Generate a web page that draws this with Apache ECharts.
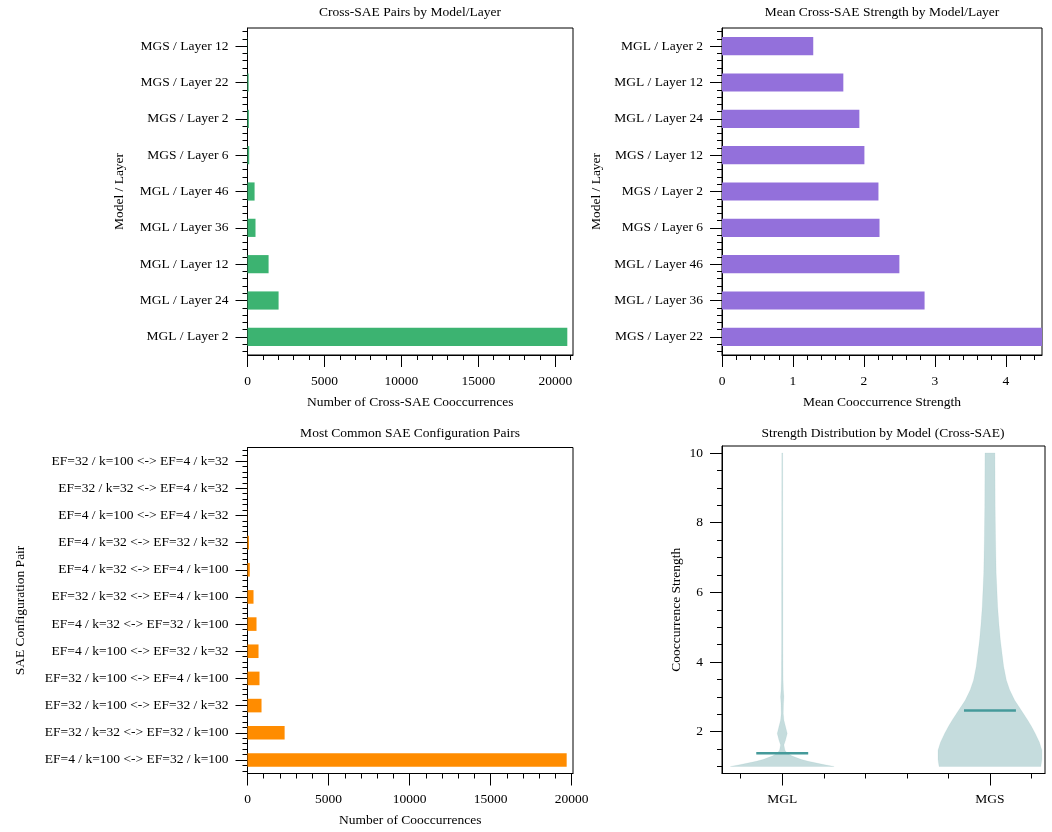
<!DOCTYPE html>
<html><head><meta charset="utf-8">
<script src="https://cdn.jsdelivr.net/npm/echarts@6/dist/echarts.min.js"></script>
<style>html,body{margin:0;padding:0;background:#fff}#c{width:1052px;height:832px}</style>
</head><body><div id="c"></div>
<script>
// ---------- DATA ----------
// Panel 1: Cross-SAE pairs by model/layer (bottom -> top)
const pairCats = ['MGL / Layer 2','MGL / Layer 24','MGL / Layer 12','MGL / Layer 36','MGL / Layer 46','MGS / Layer 6','MGS / Layer 2','MGS / Layer 22','MGS / Layer 12'];
const pairCounts = [20780, 2020, 1370, 520, 460, 110, 90, 75, 12];
// Panel 2: mean strength (bottom -> top)
const strengthCats = ['MGS / Layer 22','MGL / Layer 36','MGL / Layer 46','MGS / Layer 6','MGS / Layer 2','MGS / Layer 12','MGL / Layer 24','MGL / Layer 12','MGL / Layer 2'];
const strengthVals = [4.51, 2.855, 2.50, 2.22, 2.205, 2.007, 1.936, 1.71, 1.286];
// Panel 3: SAE configuration pairs (bottom -> top)
const configCats = ['EF=4 / k=100 <-> EF=32 / k=100','EF=32 / k=32 <-> EF=32 / k=100','EF=32 / k=100 <-> EF=32 / k=32','EF=32 / k=100 <-> EF=4 / k=100','EF=4 / k=100 <-> EF=32 / k=32','EF=4 / k=32 <-> EF=32 / k=100','EF=32 / k=32 <-> EF=4 / k=100','EF=4 / k=32 <-> EF=4 / k=100','EF=4 / k=32 <-> EF=32 / k=32','EF=4 / k=100 <-> EF=4 / k=32','EF=32 / k=32 <-> EF=4 / k=32','EF=32 / k=100 <-> EF=4 / k=32'];
const configCounts = [19690, 2290, 865, 740, 680, 556, 371, 140, 90, 10, 8, 5];
// Panel 4: violin profiles (strength level -> half width in axis units)
const violinModels = ['MGL','MGS'];
const violinPos = [1, 2];
const violinMedians = [1.38, 2.61];
const mglLevels = [1.0, 1.05, 1.1, 1.15, 1.2, 1.3, 1.38, 1.47, 1.62, 1.76, 1.95, 2.14, 2.33, 2.52, 2.8, 3.0, 3.2, 3.5, 4.5, 6, 8, 10];
const mglHalfW  = [0.25, 0.205, 0.165, 0.125, 0.093, 0.048, 0.024, 0.013, 0.008, 0.016, 0.024, 0.016, 0.008, 0.005, 0.006, 0.008, 0.0056, 0.004, 0.003, 0.003, 0.0025, 0.002];
const mgsLevels = [1.0, 1.2, 1.47, 1.7, 1.95, 2.15, 2.33, 2.62, 2.9, 3.2, 3.48, 3.87, 4.25, 4.63, 5.1, 5.59, 6.55, 7.5, 8.5, 10.0];
const mgsHalfW  = [0.245, 0.25, 0.25, 0.238, 0.218, 0.2, 0.182, 0.15, 0.119, 0.095, 0.079, 0.066, 0.058, 0.05, 0.043, 0.037, 0.03, 0.027, 0.025, 0.024];
// Tick labels
const countTicks = [0, 5000, 10000, 15000, 20000];
const meanTicks = [0, 1, 2, 3, 4];
const violinYTicks = [2, 4, 6, 8, 10];

// ---------- STYLE ----------
const FONT = 'Liberation Serif';
const FS = 13.5;
const BLACK = '#000';
const MAJ = 12, MIN = 5;
const txt = {color: BLACK, fontFamily: FONT, fontSize: FS};

function range(a, b, step) { const r = []; for (let v = a; v <= b + 1e-9; v += step) r.push(+v.toFixed(4)); return r; }

const grids = [
  {left: 247.5, top: 28, width: 325.5, height: 327},
  {left: 722, top: 28, width: 320, height: 327},
  {left: 247.5, top: 447.5, width: 325.5, height: 326},
  {left: 722, top: 446, width: 323, height: 327.5}
].map(g => Object.assign({show: true, borderColor: BLACK, borderWidth: 1, containLabel: false}, g));

const xAxes = [], yAxes = [];
function addX(o) { xAxes.push(o); return xAxes.length - 1; }
function addY(o) { yAxes.push(o); return yAxes.length - 1; }

function valueX(grid, min, max, ticks, minor, name, fmt) {
  const major = addX({type: 'value', gridIndex: grid, position: 'bottom', min, max,
    axisLine: {show: true, onZero: false, lineStyle: {color: BLACK, width: 1}},
    axisTick: {show: true, length: MAJ, customValues: ticks, lineStyle: {color: BLACK}},
    axisLabel: {show: true, customValues: ticks, margin: 19, formatter: fmt || (v => String(v)), ...txt},
    splitLine: {show: false},
    name: name || '', nameLocation: 'middle', nameGap: 40, nameTextStyle: txt});
  addX({type: 'value', gridIndex: grid, position: 'bottom', min, max,
    axisLine: {show: false, onZero: false},
    axisTick: {show: true, length: MIN, customValues: minor, lineStyle: {color: BLACK}},
    axisLabel: {show: false}, splitLine: {show: false}});
  return major;
}
function catY(grid, cats, name, gap) {
  const major = addY({type: 'category', gridIndex: grid, position: 'left', data: cats, boundaryGap: true,
    axisLine: {show: true, onZero: false, lineStyle: {color: BLACK, width: 1}},
    axisTick: {show: true, alignWithLabel: true, interval: 0, length: MAJ, lineStyle: {color: BLACK}},
    axisLabel: {show: true, interval: 0, margin: 19, ...txt},
    splitLine: {show: false},
    name, nameLocation: 'middle', nameGap: gap, nameTextStyle: txt});
  const n = cats.length;
  const minor = [];
  for (let k = 0; k < n; k++) for (const d of [-0.4, -0.2, 0.2, 0.4]) minor.push(+(k + d).toFixed(2));
  addY({type: 'value', gridIndex: grid, position: 'left', min: -0.5, max: n - 0.5,
    axisLine: {show: false, onZero: false},
    axisTick: {show: true, length: MIN, customValues: minor, lineStyle: {color: BLACK}},
    axisLabel: {show: false}, splitLine: {show: false}});
  return major;
}

// Panel 1
const x1 = valueX(0, 0, 21150, countTicks, range(0, 21000, 1000), 'Number of Cross-SAE Cooccurrences');
const y1 = catY(0, pairCats, 'Model / Layer', 121);
// Panel 2
const x2 = valueX(1, 0, 4.51, meanTicks, range(0, 4.4, 0.2), 'Mean Cooccurrence Strength');
const y2 = catY(1, strengthCats, 'Model / Layer', 119);
// Panel 3
const x3 = valueX(2, 0, 20080, countTicks, range(0, 20000, 1000), 'Number of Cooccurrences');
const y3 = catY(2, configCats, 'SAE Configuration Pair', 220);
// Panel 4
const x4 = valueX(3, 0.71, 2.265, violinPos, range(0.8, 2.2, 0.2), '', v => violinModels[Math.round(v) - 1]);
const y4 = addY({type: 'value', gridIndex: 3, position: 'left', min: 0.8, max: 10.2,
  axisLine: {show: true, onZero: false, lineStyle: {color: BLACK, width: 1}},
  axisTick: {show: true, length: MAJ, customValues: violinYTicks, lineStyle: {color: BLACK}},
  axisLabel: {show: true, customValues: violinYTicks, margin: 19, ...txt},
  splitLine: {show: false},
  name: 'Cooccurrence Strength', nameLocation: 'middle', nameGap: 39, nameTextStyle: txt});
addY({type: 'value', gridIndex: 3, position: 'left', min: 0.8, max: 10.2,
  axisLine: {show: false, onZero: false},
  axisTick: {show: true, length: MIN, customValues: range(1, 10, 0.5), lineStyle: {color: BLACK}},
  axisLabel: {show: false}, splitLine: {show: false}});

const profiles = [[mglLevels, mglHalfW], [mgsLevels, mgsHalfW]];

const titles = [
  ['Cross-SAE Pairs by Model/Layer', 410, 5],
  ['Mean Cross-SAE Strength by Model/Layer', 882, 5],
  ['Most Common SAE Configuration Pairs', 410, 426],
  ['Strength Distribution by Model (Cross-SAE)', 883, 426]
].map(([text, left, top]) => ({text, left, top, textAlign: 'center', padding: 0,
  textStyle: {fontFamily: FONT, fontSize: FS, fontWeight: 'normal', color: BLACK}}));

const option = {
  animation: false,
  backgroundColor: '#fff',
  title: titles,
  grid: grids,
  xAxis: xAxes,
  yAxis: yAxes,
  series: [
    {type: 'bar', xAxisIndex: x1, yAxisIndex: y1, data: pairCounts, barWidth: '50%', itemStyle: {color: '#3cb371'}},
    {type: 'bar', xAxisIndex: x2, yAxisIndex: y2, data: strengthVals, barWidth: '50%', itemStyle: {color: '#9370db'}},
    {type: 'bar', xAxisIndex: x3, yAxisIndex: y3, data: configCounts, barWidth: '50%', itemStyle: {color: '#ff8c00'}},
    {type: 'custom', xAxisIndex: x4, yAxisIndex: y4,
      data: violinPos.map((p, i) => [p, violinMedians[i]]),
      encode: {x: 0, y: 1},
      renderItem: function (params, api) {
        const i = params.dataIndex;
        const pos = api.value(0), med = api.value(1);
        const [lv, hw] = profiles[i];
        const right = lv.map((v, k) => api.coord([pos + hw[k], v]));
        const left = lv.map((v, k) => api.coord([pos - hw[k], v])).reverse();
        const a = api.coord([pos - 0.125, med]), b = api.coord([pos + 0.125, med]);
        return {type: 'group', children: [
          {type: 'polygon', shape: {points: right.concat(left)}, style: {fill: 'rgba(95,158,160,0.36)', stroke: 'rgba(95,158,160,0.12)', lineWidth: 0.8}},
          {type: 'line', shape: {x1: a[0], y1: a[1], x2: b[0], y2: b[1]}, style: {stroke: '#459a9a', lineWidth: 2.5}}
        ]};
      }}
  ]
};
const chart = echarts.init(document.getElementById('c'), null, {renderer: 'canvas'});
chart.setOption(option);
</script></body></html>
